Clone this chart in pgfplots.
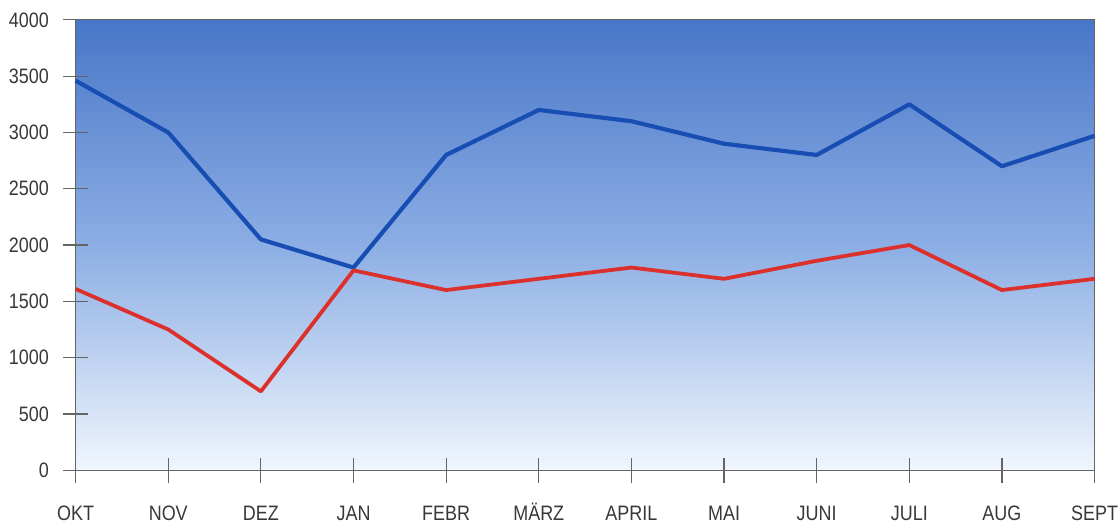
\documentclass[border={3.5pt 0pt 0pt 0pt}]{standalone}
\usepackage{pgfplots}
\pgfplotsset{compat=1.18}
\usepackage{fontspec}
\setmainfont[FakeStretch=0.86]{Liberation Sans}
\definecolor{bgtop}{RGB}{72,118,200}
\definecolor{bgmid}{RGB}{140,174,228}
\definecolor{bgbot}{RGB}{240,246,253}
\definecolor{bluel}{RGB}{24,78,180}
\definecolor{redl}{RGB}{220,48,44}
\definecolor{axgray}{RGB}{100,100,100}
\begin{document}
\begin{tikzpicture}
\begin{axis}[
  scale only axis,
  width=512.5pt, height=226.5pt,
  xmin=0, xmax=11, ymin=0, ymax=4000,
  xtick={0,...,11},
  xticklabels={OKT,NOV,DEZ,JAN,FEBR,MÄRZ,APRIL,MAI,JUNI,JULI,AUG,SEPT},
  ytick={0,500,...,4000},
  xtick pos=bottom, ytick pos=left,
  /pgf/number format/assume math mode=true,
  /pgf/number format/1000 sep={},
  tick align=center,
  major tick length=12.5pt,
  tick style={axgray, line width=0.6pt},
  axis line style={axgray, line width=0.6pt},
  ticklabel style={font=\fontsize{10.5}{12}\selectfont, text=black!78, inner sep=1pt},
  yticklabel style={xshift=-6pt},
  xticklabel style={yshift=-10pt, text height=7.8pt, text depth=1.5pt},
  axis background/.style={shade, top color=bgtop, bottom color=bgbot, middle color=bgmid},
  clip=false,
]
\addplot[bluel, line width=2.1pt, line join=round] coordinates {
(0,3460) (1,3000) (2,2050) (3,1800) (4,2800) (5,3200)
(6,3100) (7,2900) (8,2800) (9,3250) (10,2700) (11,2970)};
\addplot[redl, line width=1.9pt, line join=round] coordinates {
(0,1610) (1,1250) (2,700) (3,1775) (4,1600) (5,1700)
(6,1800) (7,1700) (8,1860) (9,2000) (10,1600) (11,1700)};
\path (rel axis cs:0,1) ++(0,10pt) coordinate (topextra);
\path (topextra) -- (topextra);
\end{axis}
\end{tikzpicture}
\end{document}
